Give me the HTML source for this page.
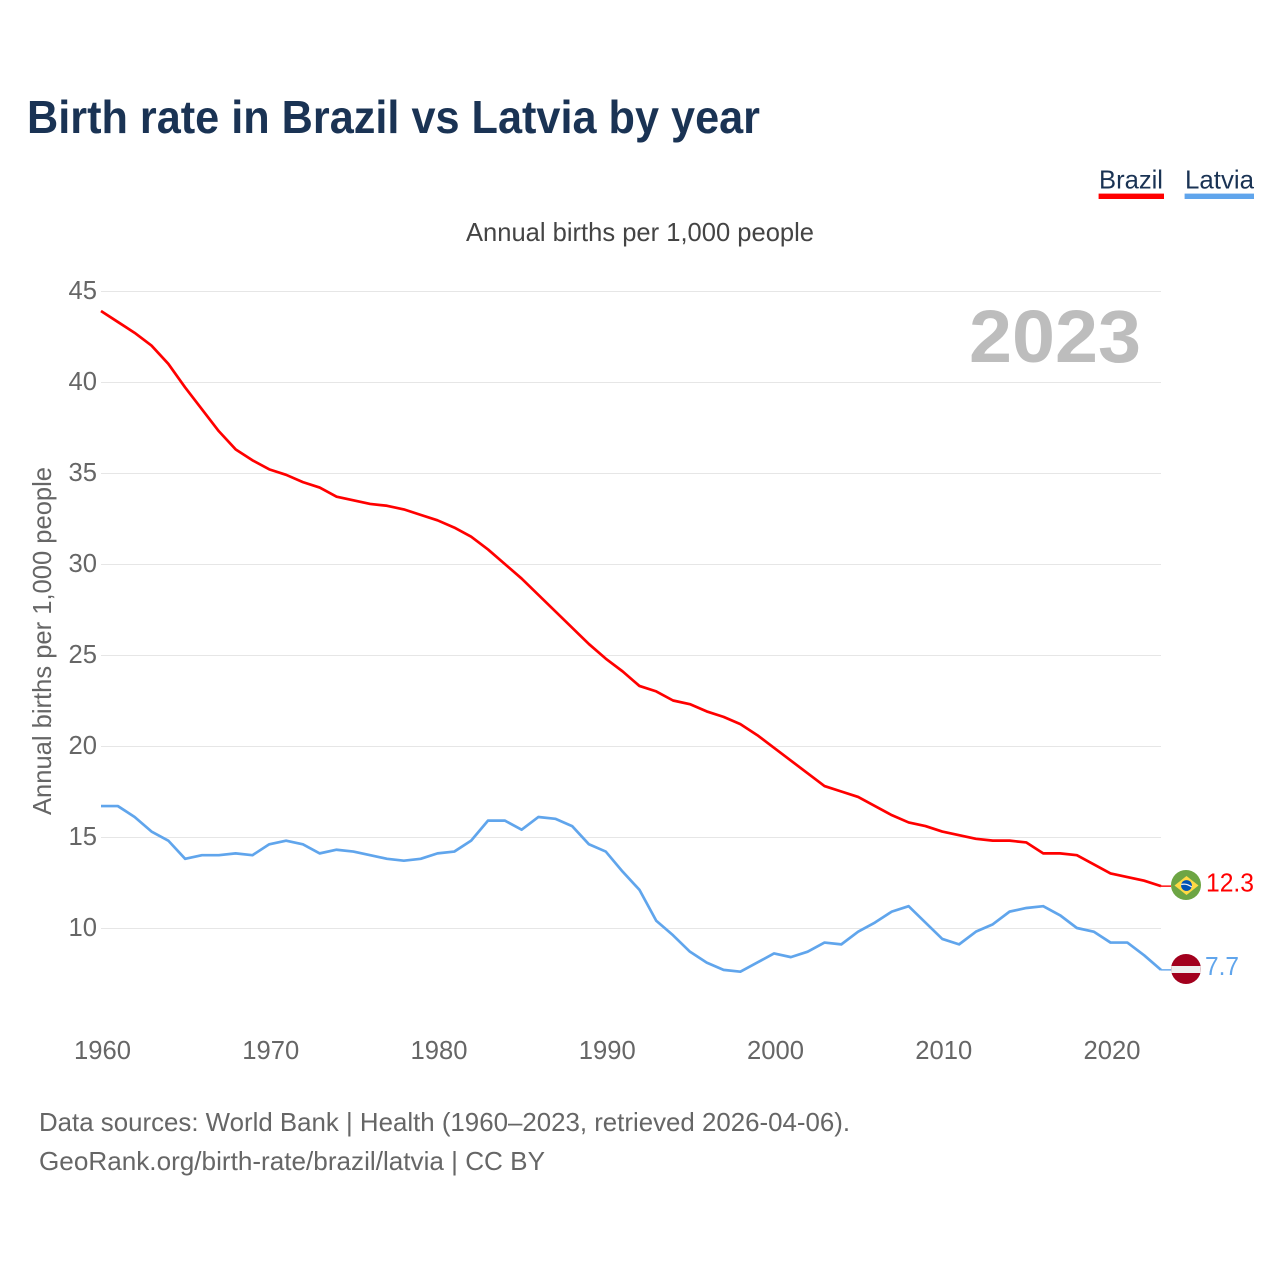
<!DOCTYPE html>
<html lang="en">
<head>
<meta charset="utf-8">
<title>Birth rate in Brazil vs Latvia by year</title>
<style>
  html, body { margin: 0; padding: 0; background: #ffffff; }
  body { width: 1280px; height: 1280px; overflow: hidden; }
  svg { display: block; font-family: "Liberation Sans", Arial, sans-serif; }
</style>
</head>
<body>
<svg id="chart" xmlns="http://www.w3.org/2000/svg" width="1280" height="1280" viewBox="0 0 1280 1280">
  <rect x="0" y="0" width="1280" height="1280" fill="#ffffff"/>
  <text x="27" y="133" font-size="46" font-weight="700" fill="#1a3354" textLength="733" lengthAdjust="spacingAndGlyphs">Birth rate in Brazil vs Latvia by year</text>

  <g>
    <text x="1099" y="188.5" font-size="26" fill="#1a3354" textLength="64" lengthAdjust="spacingAndGlyphs">Brazil</text>
    <rect x="1098.6" y="193.6" width="65.4" height="5.4" fill="#ff0000"/>
  </g>
  <g>
    <text x="1185" y="188.5" font-size="26" fill="#1a3354" textLength="69" lengthAdjust="spacingAndGlyphs">Latvia</text>
    <rect x="1184.6" y="193.6" width="69.4" height="5.4" fill="#60a5ec"/>
  </g>

  <text x="466" y="241" font-size="26" fill="#444444" textLength="348" lengthAdjust="spacingAndGlyphs">Annual births per 1,000 people</text>

  <g id="grid"></g>
  <g id="yticks"></g>
  <g id="xticks"></g>

  <text transform="translate(51,641) rotate(-90)" text-anchor="middle" font-size="26" fill="#666666" textLength="348" lengthAdjust="spacingAndGlyphs">Annual births per 1,000 people</text>

  <text x="969" y="362" font-size="74" font-weight="700" fill="#bdbdbd" textLength="172" lengthAdjust="spacingAndGlyphs">2023</text>

  <g id="series"></g>

  <g>
    <circle cx="1186" cy="885" r="15" fill="#6da544"/>
    <polygon points="1186.5,876 1198.5,885.5 1186.5,895 1174.5,885.5" fill="#ffda44"/>
    <circle cx="1186.5" cy="885.5" r="5.4" fill="#0052b4"/>
    <path d="M1181.2 884.5 Q1186.5 883 1191.8 887" fill="none" stroke="#f0f0f0" stroke-width="1.2"/>
  </g>
  <g>
    <circle cx="1186" cy="969" r="15" fill="#a2001d"/>
    <rect x="1171.2" y="966" width="29.6" height="7" fill="#eeeeee"/>
  </g>

  <text id="label-brazil" x="1206" y="891.5" font-size="25.6" fill="#ff0000" textLength="48" lengthAdjust="spacingAndGlyphs"></text>
  <text id="label-latvia" x="1205" y="975" font-size="25.6" fill="#60a5ec" textLength="34" lengthAdjust="spacingAndGlyphs"></text>

  <text x="39" y="1131" font-size="26" fill="#666666" textLength="811" lengthAdjust="spacingAndGlyphs">Data sources: World Bank | Health (1960–2023, retrieved 2026-04-06).</text>
  <text x="39" y="1170" font-size="26" fill="#666666" textLength="506" lengthAdjust="spacingAndGlyphs">GeoRank.org/birth-rate/brazil/latvia | CC BY</text>
</svg>

<script>
const startYear = 1960;
const endYear = 2023;
const yTicks = [10, 15, 20, 25, 30, 35, 40, 45];
const xTicks = [1960, 1970, 1980, 1990, 2000, 2010, 2020];
const brazilValues = [
  43.9, 43.3, 42.7, 42.0, 41.0, 39.7, 38.5, 37.3, 36.3, 35.7,
  35.2, 34.9, 34.5, 34.2, 33.7, 33.5, 33.3, 33.2, 33.0, 32.7,
  32.4, 32.0, 31.5, 30.8, 30.0, 29.2, 28.3, 27.4, 26.5, 25.6,
  24.8, 24.1, 23.3, 23.0, 22.5, 22.3, 21.9, 21.6, 21.2, 20.6,
  19.9, 19.2, 18.5, 17.8, 17.5, 17.2, 16.7, 16.2, 15.8, 15.6,
  15.3, 15.1, 14.9, 14.8, 14.8, 14.7, 14.1, 14.1, 14.0, 13.5,
  13.0, 12.8, 12.6, 12.3
];
const latviaValues = [
  16.7, 16.7, 16.1, 15.3, 14.8, 13.8, 14.0, 14.0, 14.1, 14.0,
  14.6, 14.8, 14.6, 14.1, 14.3, 14.2, 14.0, 13.8, 13.7, 13.8,
  14.1, 14.2, 14.8, 15.9, 15.9, 15.4, 16.1, 16.0, 15.6, 14.6,
  14.2, 13.1, 12.1, 10.4, 9.6, 8.7, 8.1, 7.7, 7.6, 8.1,
  8.6, 8.4, 8.7, 9.2, 9.1, 9.8, 10.3, 10.9, 11.2, 10.3,
  9.4, 9.1, 9.8, 10.2, 10.9, 11.1, 11.2, 10.7, 10.0, 9.8,
  9.2, 9.2, 8.5, 7.7
];

const NS = 'http://www.w3.org/2000/svg';
const plotLeft = 101;
const plotRight = 1161;
const tailRight = 1171;

function xScale(year) {
  return plotLeft + (year - startYear) * (plotRight - plotLeft) / (endYear - startYear);
}
function yScale(value) {
  return 928 - (value - 10) * 18.2;
}
function pointsFor(values) {
  return values.map(function (v, i) {
    return xScale(startYear + i).toFixed(2) + ',' + yScale(v).toFixed(2);
  }).join(' ');
}

const grid = document.getElementById('grid');
const yTickGroup = document.getElementById('yticks');
yTicks.forEach(function (t) {
  const line = document.createElementNS(NS, 'line');
  
  
  line.setAttribute('x1', plotLeft);
  line.setAttribute('x2', plotRight);
  line.setAttribute('y1', Math.floor(yScale(t)) + 0.5);
  line.setAttribute('y2', Math.floor(yScale(t)) + 0.5);
  line.setAttribute('stroke', '#e6e6e6');
  line.setAttribute('stroke-width', '1');
  grid.appendChild(line);

  const label = document.createElementNS(NS, 'text');
  
  
  label.setAttribute('x', 97);
  label.setAttribute('y', yScale(t) + 8);
  label.setAttribute('text-anchor', 'end');
  label.setAttribute('font-size', '25.6');
  label.setAttribute('fill', '#666666');
  label.textContent = String(t);
  yTickGroup.appendChild(label);
});

const xTickGroup = document.getElementById('xticks');
xTicks.forEach(function (t) {
  const label = document.createElementNS(NS, 'text');
  
  
  label.setAttribute('x', xScale(t) + 1.5);
  label.setAttribute('y', 1059);
  label.setAttribute('text-anchor', 'middle');
  label.setAttribute('font-size', '25.6');
  label.setAttribute('fill', '#666666');
  label.textContent = String(t);
  xTickGroup.appendChild(label);
});

const seriesGroup = document.getElementById('series');

const latviaLine = document.createElementNS(NS, 'polyline');


latviaLine.setAttribute('points', pointsFor(latviaValues));
latviaLine.setAttribute('fill', 'none');
latviaLine.setAttribute('stroke', '#60a5ec');
latviaLine.setAttribute('stroke-width', '2.7');
latviaLine.setAttribute('stroke-linejoin', 'round');
seriesGroup.appendChild(latviaLine);

const brazilLine = document.createElementNS(NS, 'polyline');


brazilLine.setAttribute('points', pointsFor(brazilValues));
brazilLine.setAttribute('fill', 'none');
brazilLine.setAttribute('stroke', '#ff0000');
brazilLine.setAttribute('stroke-width', '2.7');
brazilLine.setAttribute('stroke-linejoin', 'round');
seriesGroup.appendChild(brazilLine);

const latviaLast = latviaValues[latviaValues.length - 1];
const brazilLast = brazilValues[brazilValues.length - 1];

const latviaTail = document.createElementNS(NS, 'line');


latviaTail.setAttribute('x1', plotRight);
latviaTail.setAttribute('x2', tailRight);
latviaTail.setAttribute('y1', yScale(latviaLast));
latviaTail.setAttribute('y2', yScale(latviaLast));
latviaTail.setAttribute('stroke', '#60a5ec');
latviaTail.setAttribute('stroke-width', '1.4');
seriesGroup.appendChild(latviaTail);

const brazilTail = document.createElementNS(NS, 'line');


brazilTail.setAttribute('x1', plotRight);
brazilTail.setAttribute('x2', tailRight);
brazilTail.setAttribute('y1', yScale(brazilLast));
brazilTail.setAttribute('y2', yScale(brazilLast));
brazilTail.setAttribute('stroke', '#ff0000');
brazilTail.setAttribute('stroke-width', '1.4');
seriesGroup.appendChild(brazilTail);

document.getElementById('label-brazil').textContent = brazilLast.toFixed(1);
document.getElementById('label-latvia').textContent = latviaLast.toFixed(1);
</script>
</body>
</html>
